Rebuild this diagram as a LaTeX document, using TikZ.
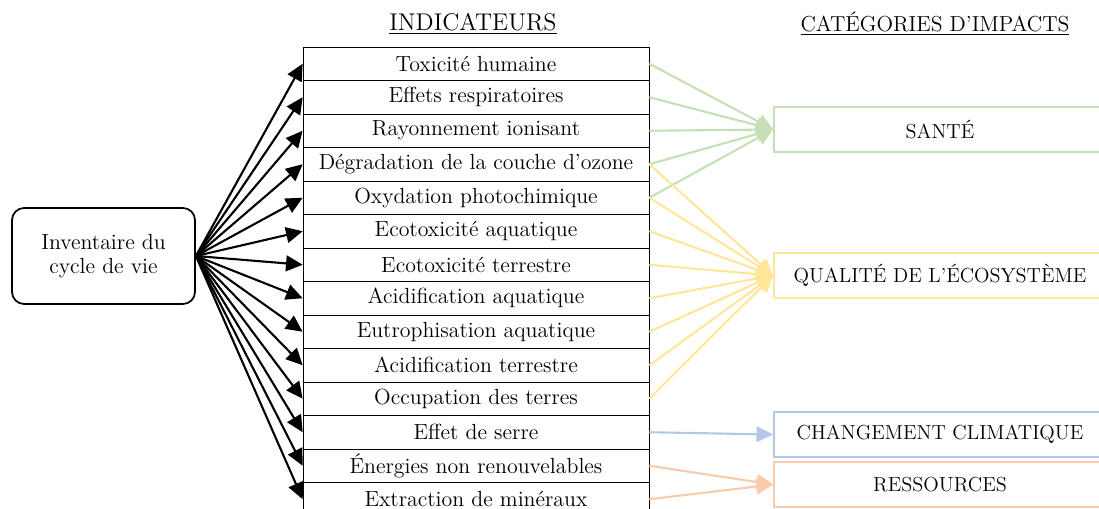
\documentclass[tikz,border=0pt]{standalone}
\usepackage{fontspec}
\usetikzlibrary{arrows.meta}
\definecolor{cSante}{HTML}{C5E0B4}
\definecolor{cQualite}{HTML}{FFE699}
\definecolor{cClimat}{HTML}{B4C7E7}
\definecolor{cRessources}{HTML}{F8CBAD}
\tikzset{
  chiso/.style={draw, thin, minimum width=197.7pt, minimum height=19.14pt, inner sep=0pt},
  nhom/.style={draw, line width=1pt, minimum width=189.7pt, minimum height=25.7pt, inner sep=0pt, font=\fontsize{11.6}{13.9}\selectfont},
  muiten/.style={very thick, -{Triangle[length=9.5pt,width=9pt]}},
}
\begin{document}
\begin{tikzpicture}[x=0.5714pt,y=-0.5714pt, font=\fontsize{12.5}{14}\selectfont]
  \useasboundingbox (0,0) rectangle (1099,509);
  % Tiêu đề
  \node[font=\fontsize{13.8}{16.5}\selectfont] (tdchiso) at (473,24) {\underline{INDICATEURS}};
  \node[font=\fontsize{12.4}{15}\selectfont] (tdnhom) at (935,24) {\underline{CATÉGORIES D'IMPACTS}};
  % Hộp kiểm kê
  \node[draw, line width=1pt, rounded corners=7pt, minimum width=104.6pt, minimum height=54.9pt, align=center] (icv) at (103.5,256) {Inventaire du\\cycle de vie};
  % Các chỉ số
  \node[chiso] (toxicite) at (476,63.75) {Toxicité humaine};
  \node[chiso] (effets) at (476,97.25) {Effets respiratoires};
  \node[chiso] (rayonnement) at (476,130.75) {Rayonnement ionisant};
  \node[chiso] (ozone) at (476,164.25) {Dégradation de la couche d'ozone};
  \node[chiso] (oxydation) at (476,197.75) {Oxydation photochimique};
  \node[chiso] (ecoaqua) at (476,231.25) {Ecotoxicité aquatique};
  \node[chiso] (ecoterre) at (476,264.75) {Ecotoxicité terrestre};
  \node[chiso] (acidaqua) at (476,298.25) {Acidification aquatique};
  \node[chiso] (eutro) at (476,331.75) {Eutrophisation aquatique};
  \node[chiso] (acidterre) at (476,365.25) {Acidification terrestre};
  \node[chiso] (occupation) at (476,398.75) {Occupation des terres};
  \node[chiso] (serre) at (476,432.25) {Effet de serre};
  \node[chiso] (energies) at (476,465.75) {Énergies non renouvelables};
  \node[chiso] (mineraux) at (476,499.25) {Extraction de minéraux};
  % Các nhóm tác động
  \node[nhom, draw=cSante] (sante) at (940,129.5) {SANTÉ};
  \node[nhom, draw=cQualite] (qualite) at (940,275.5) {QUALITÉ DE L'ÉCOSYSTÈME};
  \node[nhom, draw=cClimat] (climat) at (940,434.5) {CHANGEMENT CLIMATIQUE};
  \node[nhom, draw=cRessources] (ressources) at (940,484.5) {RESSOURCES};
  % Mũi tên từ kiểm kê đến chỉ số
  \draw[muiten] (icv.east) -- (toxicite.west);
  \draw[muiten] (icv.east) -- (effets.west);
  \draw[muiten] (icv.east) -- (rayonnement.west);
  \draw[muiten] (icv.east) -- (ozone.west);
  \draw[muiten] (icv.east) -- (oxydation.west);
  \draw[muiten] (icv.east) -- (ecoaqua.west);
  \draw[muiten] (icv.east) -- (ecoterre.west);
  \draw[muiten] (icv.east) -- (acidaqua.west);
  \draw[muiten] (icv.east) -- (eutro.west);
  \draw[muiten] (icv.east) -- (acidterre.west);
  \draw[muiten] (icv.east) -- (occupation.west);
  \draw[muiten] (icv.east) -- (serre.west);
  \draw[muiten] (icv.east) -- (energies.west);
  \draw[muiten] (icv.east) -- (mineraux.west);
  % Mũi tên đến nhóm sức khỏe
  \draw[muiten, cSante] (toxicite.east) -- (sante.west);
  \draw[muiten, cSante] (effets.east) -- (sante.west);
  \draw[muiten, cSante] (rayonnement.east) -- (sante.west);
  \draw[muiten, cSante] (ozone.east) -- (sante.west);
  \draw[muiten, cSante] (oxydation.east) -- (sante.west);
  % Mũi tên đến nhóm hệ sinh thái
  \draw[muiten, cQualite] (ozone.east) -- (qualite.west);
  \draw[muiten, cQualite] (oxydation.east) -- (qualite.west);
  \draw[muiten, cQualite] (ecoaqua.east) -- (qualite.west);
  \draw[muiten, cQualite] (ecoterre.east) -- (qualite.west);
  \draw[muiten, cQualite] (acidaqua.east) -- (qualite.west);
  \draw[muiten, cQualite] (eutro.east) -- (qualite.west);
  \draw[muiten, cQualite] (acidterre.east) -- (qualite.west);
  \draw[muiten, cQualite] (occupation.east) -- (qualite.west);
  % Mũi tên đến khí hậu và tài nguyên
  \draw[muiten, cClimat] (serre.east) -- (climat.west);
  \draw[muiten, cRessources] (energies.east) -- (ressources.west);
  \draw[muiten, cRessources] (mineraux.east) -- (ressources.west);
\end{tikzpicture}
\end{document}
